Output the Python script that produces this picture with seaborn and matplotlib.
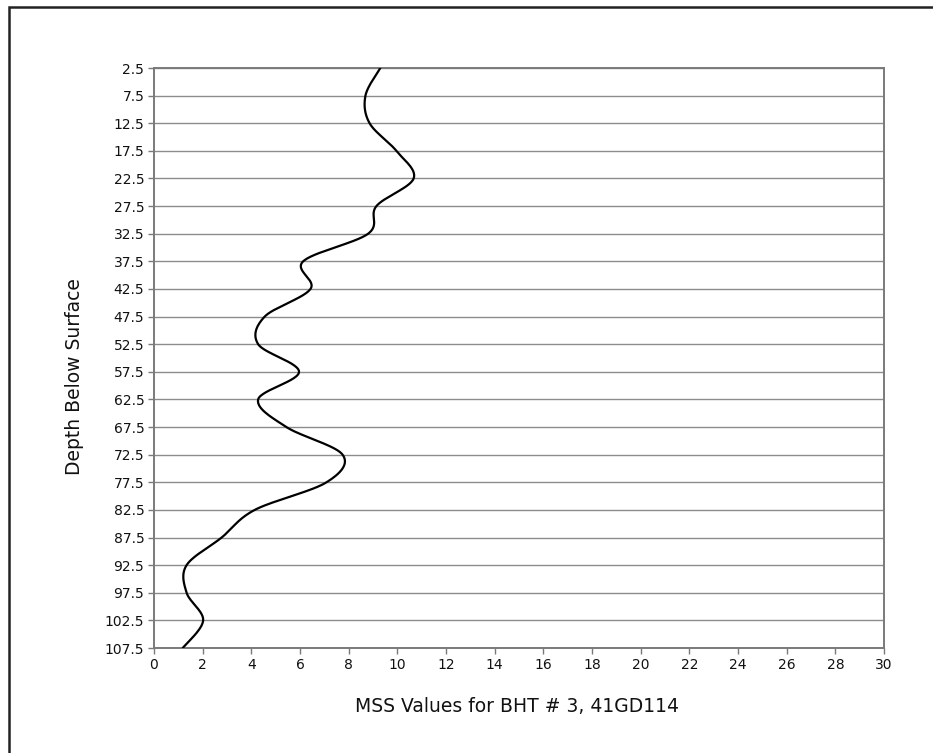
import numpy as np
import pandas as pd
import matplotlib
matplotlib.use("Agg")
import matplotlib.pyplot as plt
import seaborn as sns
from matplotlib.patches import Rectangle

depths = [2.5, 7.5, 12.5, 17.5, 22.5, 27.5, 32.5, 37.5, 42.5, 47.5, 52.5,
          57.5, 62.5, 67.5, 72.5, 77.5, 82.5, 87.5, 92.5, 97.5, 102.5, 107.5]
mss = [9.30, 8.69, 8.86, 9.96, 10.67, 9.14, 8.80, 6.13, 6.43, 4.55, 4.28,
       5.96, 4.28, 5.44, 7.75, 7.09, 4.14, 2.78, 1.34, 1.34, 2.02, 1.18]
x_ticks = list(range(0, 31, 2))
x_label = "MSS Values for BHT # 3, 41GD114"
y_label = "Depth Below Surface"


def smooth(px, py, n=30):
    # Catmull-Rom smoothing for display (like a spreadsheet "smoothed line")
    P = np.column_stack([px, py]).astype(float)
    P = np.vstack([P[0], P, P[-1]])
    out = []
    for i in range(1, len(P) - 2):
        p0, p1, p2, p3 = P[i - 1], P[i], P[i + 1], P[i + 2]
        t = np.linspace(0, 1, n, endpoint=False)[:, None]
        seg = 0.5 * ((2 * p1) + (-p0 + p2) * t + (2 * p0 - 5 * p1 + 4 * p2 - p3) * t ** 2
                     + (-p0 + 3 * p1 - 3 * p2 + p3) * t ** 3)
        out.append(seg)
    out.append(P[-2][None, :])
    out = np.vstack(out)
    return out[:, 0], out[:, 1]


sx, sy = smooth(mss, depths)
df = pd.DataFrame({"x": sx, "y": sy})

sns.set_theme(style="white")
plt.rcParams["font.family"] = ["DejaVu Sans"]

fig = plt.figure(figsize=(9.33, 7.53), dpi=100)
W, H = 933, 753
ax = fig.add_axes([154 / W, 1 - 648 / H, (884 - 154) / W, (648 - 68) / H])

grid_c = "#8c8c8c"
for d in depths:
    ax.axhline(d, color=grid_c, lw=1.0, zorder=1)

sns.lineplot(data=df, x="x", y="y", sort=False, estimator=None, color="black",
             lw=1.6, ax=ax, zorder=3)

ax.set_xlim(0, 30)
ax.set_ylim(107.5, 2.5)
ax.set_xticks(x_ticks)
ax.set_xticklabels([str(v) for v in x_ticks])
ax.set_yticks(depths)
ax.set_yticklabels([f"{d:g}" for d in depths])
ax.set_xlabel("")
ax.set_ylabel("")

for s in ax.spines.values():
    s.set_color("#7a7a7a")
    s.set_linewidth(1.4)
ax.tick_params(axis="both", which="major", length=4, width=1.0, color="#7a7a7a",
               labelsize=10, labelcolor="#111111", direction="out",
               bottom=True, left=True)
ax.tick_params(axis="x", pad=3)
ax.tick_params(axis="y", pad=3)

fig.text(517 / W, 1 - 707 / H, x_label, ha="center", va="center", fontsize=13.5,
         color="#111111")
fig.text(75 / W, 1 - 377 / H, y_label, ha="center", va="center", rotation=90,
         fontsize=13.5, color="#111111")

fig.patches.append(Rectangle((9 / W, -0.05), 1.2, 1 - 7 / H + 0.05,
                             transform=fig.transFigure, fill=False,
                             edgecolor="#222222", lw=1.8))

fig.savefig("out.png", dpi=100, facecolor="white")
